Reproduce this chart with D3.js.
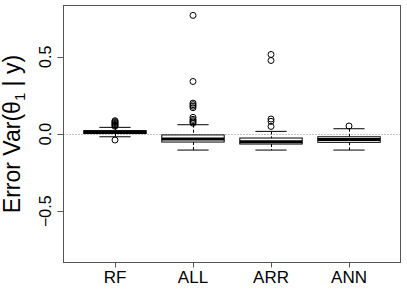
<!DOCTYPE html>
<html>
<head>
<meta charset="utf-8">
<script src="https://cdn.jsdelivr.net/npm/d3@7"></script>
<style>
  body { margin: 0; background: white; }
  text { font-family: "Liberation Sans", Arial, sans-serif; fill: black; }
</style>
</head>
<body>
<div id="chart"></div>
<script>
// Groups on the x axis
const categories = ['RF', 'ALL', 'ARR', 'ANN'];

// Box statistics per group
const whiskerLow = [-0.018, -0.104, -0.104, -0.104];
const lowerQuartile = [0.003, -0.052, -0.065, -0.054];
const medians = [0.012, -0.032, -0.05, -0.035];
const upperQuartile = [0.022, -0.006, -0.026, -0.018];
const whiskerHigh = [0.043, 0.06, 0.017, 0.034];

// Outlying points per group
const outliersRF = [-0.039, 0.05, 0.056, 0.062, 0.068, 0.074, 0.08, 0.086];
const outliersALL = [0.768, 0.34, 0.2, 0.19, 0.18, 0.17, 0.108, 0.095, 0.086, 0.078, 0.07];
const outliersARR = [0.515, 0.476, 0.097, 0.082, 0.049];
const outliersANN = [0.052];
const outliers = [outliersRF, outliersALL, outliersARR, outliersANN];

// Axis ticks
const yTicks = [-0.5, 0, 0.5];

const width = 407;
const height = 291;
const plot = { left: 63.5, right: 400.5, top: 5.5, bottom: 262.5 };

const svg = d3.select('#chart')
  .append('svg')
  .attr('width', width)
  .attr('height', height);

const x = d3.scaleLinear().domain([0.34, 4.66]).range([plot.left, plot.right]);
const y = d3.scaleLinear().domain([-0.832, 0.832]).range([plot.bottom, plot.top]);

const boxes = categories.map((name, i) => ({
  name,
  pos: i + 1,
  lo: whiskerLow[i],
  q1: lowerQuartile[i],
  med: medians[i],
  q3: upperQuartile[i],
  hi: whiskerHigh[i],
  out: outliers[i],
}));

// Dotted reference line at zero
svg.append('line')
  .attr('x1', plot.left)
  .attr('x2', plot.right)
  .attr('y1', Math.round(y(0)) + 0.5)
  .attr('y2', Math.round(y(0)) + 0.5)
  .attr('stroke', '#888')
  .attr('stroke-width', 1)
  .attr('stroke-dasharray', '1,2');

const g = svg.append('g')
  .selectAll('g')
  .data(boxes)
  .enter()
  .append('g');

// Dashed whiskers
g.append('line')
  .attr('x1', (d) => Math.round(x(d.pos)) + 0.5)
  .attr('x2', (d) => Math.round(x(d.pos)) + 0.5)
  .attr('y1', (d) => y(d.hi))
  .attr('y2', (d) => y(d.q3))
  .attr('stroke', 'black')
  .attr('stroke-dasharray', '3,2');

g.append('line')
  .attr('x1', (d) => Math.round(x(d.pos)) + 0.5)
  .attr('x2', (d) => Math.round(x(d.pos)) + 0.5)
  .attr('y1', (d) => y(d.q1))
  .attr('y2', (d) => y(d.lo))
  .attr('stroke', 'black')
  .attr('stroke-dasharray', '3,2');

// Staples
[(d) => d.hi, (d) => d.lo].forEach((f) => {
  g.append('line')
    .attr('x1', (d) => x(d.pos - 0.2))
    .attr('x2', (d) => x(d.pos + 0.2))
    .attr('y1', (d) => y(f(d)))
    .attr('y2', (d) => y(f(d)))
    .attr('stroke', 'black');
});

// Boxes
g.append('rect')
  .attr('x', (d) => x(d.pos - 0.4))
  .attr('width', (d) => x(d.pos + 0.4) - x(d.pos - 0.4))
  .attr('y', (d) => y(d.q3))
  .attr('height', (d) => y(d.q1) - y(d.q3))
  .attr('fill', 'white')
  .attr('stroke', 'black');

// Medians
g.append('line')
  .attr('x1', (d) => x(d.pos - 0.4))
  .attr('x2', (d) => x(d.pos + 0.4))
  .attr('y1', (d) => y(d.med))
  .attr('y2', (d) => y(d.med))
  .attr('stroke', 'black')
  .attr('stroke-width', 3);

// Outliers
g.selectAll('circle')
  .data((d) => d.out.map((v) => ({ pos: d.pos, v })))
  .enter()
  .append('circle')
  .attr('cx', (d) => x(d.pos))
  .attr('cy', (d) => y(d.v))
  .attr('r', 3)
  .attr('fill', 'none')
  .attr('stroke', 'black');

// Plot frame
svg.append('rect')
  .attr('x', plot.left)
  .attr('y', plot.top)
  .attr('width', plot.right - plot.left)
  .attr('height', plot.bottom - plot.top)
  .attr('fill', 'none')
  .attr('stroke', '#555');

// Y axis ticks and labels
const yAxis = svg.append('g');
yAxis.selectAll('line')
  .data(yTicks)
  .enter()
  .append('line')
  .attr('x1', plot.left - 6)
  .attr('x2', plot.left)
  .attr('y1', (d) => Math.round(y(d)) + 0.5)
  .attr('y2', (d) => Math.round(y(d)) + 0.5)
  .attr('stroke', '#555');

yAxis.selectAll('text')
  .data(yTicks)
  .enter()
  .append('text')
  .attr('transform', (d) => `translate(51,${y(d)}) rotate(-90)`)
  .attr('text-anchor', 'middle')
  .attr('font-size', '16px')
  .text((d) => (d === 0 ? '0.0' : d3.format('.1f')(d).replace('-', '\u2212')));

// X axis ticks and labels
const xAxis = svg.append('g');
xAxis.selectAll('line')
  .data(boxes)
  .enter()
  .append('line')
  .attr('x1', (d) => Math.round(x(d.pos)) + 0.5)
  .attr('x2', (d) => Math.round(x(d.pos)) + 0.5)
  .attr('y1', plot.bottom)
  .attr('y2', plot.bottom + 5)
  .attr('stroke', '#555');

xAxis.selectAll('text')
  .data(boxes)
  .enter()
  .append('text')
  .attr('x', (d) => x(d.pos))
  .attr('y', 283)
  .attr('text-anchor', 'middle')
  .attr('font-size', '17px')
  .text((d) => d.name);

// Y axis title with subscript
const title = svg.append('text')
  .attr('transform', `translate(20,${(plot.top + plot.bottom) / 2}) rotate(-90)`)
  .attr('text-anchor', 'middle')
  .attr('font-size', '23px');
title.append('tspan').text('Error Var(\u03B8');
title.append('tspan').attr('font-size', '15px').attr('dy', 5).text('1');
title.append('tspan').attr('dy', -5).text(' | y)');
</script>
</body>
</html>
